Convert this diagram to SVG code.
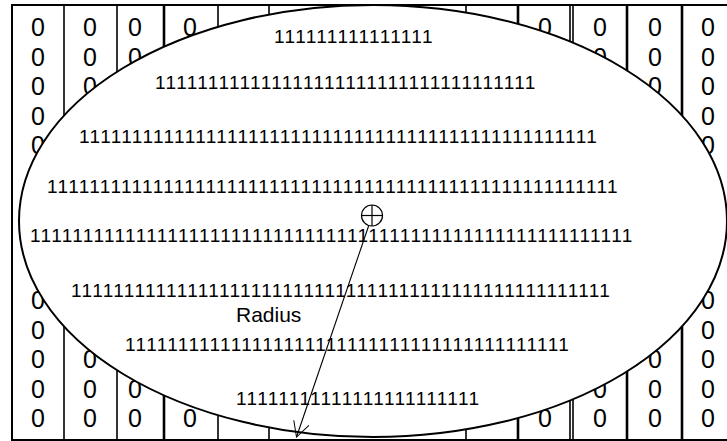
<svg xmlns="http://www.w3.org/2000/svg" width="727" height="441" viewBox="0 0 727 441">
<style>
.zero{font-family:"Liberation Sans",Arial,sans-serif;font-size:25px;fill:#000;text-anchor:middle}
.ones{font-family:"Liberation Sans",Arial,sans-serif;font-size:19px;fill:#000;font-kerning:none;font-feature-settings:"kern" 0}
.lbl{font-family:"Liberation Sans",Arial,sans-serif;font-size:21px;fill:#000}
.col{stroke:#000;stroke-width:1.6;fill:none}
.colt{stroke:#000;stroke-width:2.6;fill:none}
</style>
<defs>
<marker id="arr" viewBox="-16 -9 18 18" refX="0" refY="0" markerWidth="18" markerHeight="18" markerUnits="userSpaceOnUse" orient="auto">
<path d="M-15,-8 L0,0 L-15,8" fill="none" stroke="#000" stroke-width="1"/>
</marker>
</defs>
<rect width="727" height="441" fill="#fff"/>
<g id="columns">
<line class="col" x1="64" y1="5" x2="64" y2="440"/>
<line class="col" x1="117" y1="5" x2="117" y2="440"/>
<line class="colt" x1="164" y1="5" x2="164" y2="440"/>
<line class="col" x1="218" y1="5" x2="218" y2="440"/>
<line class="col" x1="269" y1="5" x2="269" y2="440"/>
<line class="col" x1="466" y1="5" x2="466" y2="440"/>
<line class="colt" x1="518" y1="5" x2="518" y2="440"/>
<line class="col" x1="570" y1="5" x2="570" y2="440" stroke-width="1.2"/>
<line class="col" x1="573" y1="5" x2="573" y2="440" stroke-width="1.2"/>
<line class="colt" x1="627" y1="5" x2="627" y2="440"/>
<line class="colt" x1="682" y1="5" x2="682" y2="440"/>
</g>
<g id="zeros">
<text class="zero" x="38" y="36">0</text><text class="zero" x="38" y="65.5">0</text><text class="zero" x="38" y="95">0</text><text class="zero" x="38" y="124.5">0</text><text class="zero" x="38" y="154">0</text>
<text class="zero" x="38" y="309">0</text><text class="zero" x="38" y="338.5">0</text><text class="zero" x="38" y="368">0</text><text class="zero" x="38" y="397.5">0</text><text class="zero" x="38" y="427">0</text>
<text class="zero" x="90" y="36">0</text><text class="zero" x="90" y="65.5">0</text><text class="zero" x="90" y="95">0</text>
<text class="zero" x="90" y="368">0</text><text class="zero" x="90" y="397.5">0</text><text class="zero" x="90" y="427">0</text>
<text class="zero" x="135" y="36">0</text><text class="zero" x="135" y="65.5">0</text>
<text class="zero" x="135" y="397.5">0</text><text class="zero" x="135" y="427">0</text>
<text class="zero" x="190" y="36">0</text>
<text class="zero" x="190" y="427">0</text>
<text class="zero" x="545" y="36">0</text>
<text class="zero" x="545" y="427">0</text>
<text class="zero" x="600" y="36">0</text><text class="zero" x="600" y="65.5">0</text>
<text class="zero" x="600" y="397.5">0</text><text class="zero" x="600" y="427">0</text>
<text class="zero" x="655" y="36">0</text><text class="zero" x="655" y="65.5">0</text><text class="zero" x="655" y="95">0</text>
<text class="zero" x="655" y="368">0</text><text class="zero" x="655" y="397.5">0</text><text class="zero" x="655" y="427">0</text>
<text class="zero" x="708" y="36">0</text><text class="zero" x="708" y="65.5">0</text><text class="zero" x="708" y="95">0</text><text class="zero" x="708" y="124.5">0</text><text class="zero" x="708" y="154">0</text>
<text class="zero" x="708" y="309">0</text><text class="zero" x="708" y="338.5">0</text><text class="zero" x="708" y="368">0</text><text class="zero" x="708" y="397.5">0</text><text class="zero" x="708" y="427">0</text>
</g>
<g id="border">
<rect x="12" y="5" width="722" height="435" fill="none" stroke="#000" stroke-width="2"/>
</g>
<g id="ellipse">
<ellipse cx="373" cy="221" rx="354" ry="216" fill="#fff" stroke="#000" stroke-width="2"/>
</g>
<g id="ones-rows">
<text class="ones" x="274" y="42.5">111111111111111</text>
<text class="ones" x="155" y="89">111111111111111111111111111111111111</text>
<text class="ones" x="79" y="143">1111111111111111111111111111111111111111111111111</text>
<text class="ones" x="47" y="192.5">111111111111111111111111111111111111111111111111111111</text>
<text class="ones" x="30" y="242">111111111111111111111111111111111111111111111111111111111</text>
<text class="ones" x="71" y="297">111111111111111111111111111111111111111111111111111</text>
<text class="ones" x="125" y="350.5">111111111111111111111111111111111111111111</text>
<text class="ones" x="236" y="404.5">11111111111111111111111</text>
</g>
<g id="center">
<circle cx="372" cy="215.5" r="10.5" fill="none" stroke="#000" stroke-width="1.2"/>
<line x1="361.5" y1="215.5" x2="382.5" y2="215.5" stroke="#000" stroke-width="1.2"/>
<line x1="372" y1="205" x2="372" y2="226" stroke="#000" stroke-width="1.2"/>
</g>
<g id="connectors">
<line x1="368.6" y1="226" x2="296.5" y2="437" stroke="#000" stroke-width="1.1" marker-end="url(#arr)"/>
</g>
<g id="label">
<text class="lbl" x="236" y="322">Radius</text>
</g>
</svg>
